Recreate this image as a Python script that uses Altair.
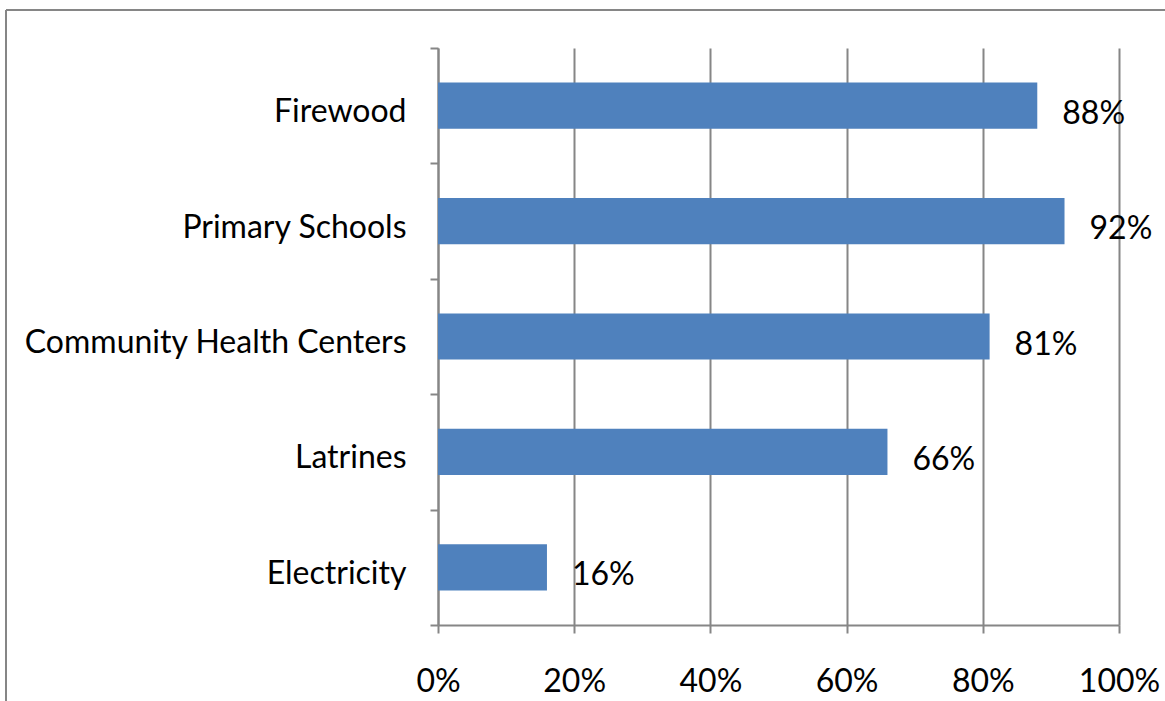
import altair as alt
import pandas as pd

categories = ["Firewood", "Primary Schools", "Community Health Centers", "Latrines", "Electricity"]
values = [0.88, 0.92, 0.81, 0.66, 0.16]
labels = ["88%", "92%", "81%", "66%", "16%"]
x_ticks = [0, 0.2, 0.4, 0.6, 0.8, 1.0]

df = pd.DataFrame({"category": categories, "value": values, "label": labels})

FONT = "Lato"
FS = 32
GRID = "#868686"
BAR = "#4F81BD"

W, H = 681, 577
PL, PT = 438, 48

y_enc = alt.Y(
    "category:N", sort=categories, title=None,
    scale=alt.Scale(paddingInner=0, paddingOuter=0),
    axis=alt.Axis(tickBand="extent", ticks=True, tickSize=8, tickColor=GRID, tickWidth=2,
                  domainColor=GRID, domainWidth=2, labelFont=FONT, labelFontSize=FS,
                  labelColor="black", labelPadding=24, labelLimit=0, labelOffset=6,
                  grid=False),
)
x_enc = alt.X(
    "value:Q", title=None, scale=alt.Scale(domain=[0, 1], nice=False),
    axis=alt.Axis(values=x_ticks, format=".0%", grid=True, gridColor=GRID, gridWidth=2,
                  tickSize=8, tickColor=GRID, tickWidth=2, domainColor=GRID, domainWidth=2,
                  labelFont=FONT, labelFontSize=FS, labelColor="black", labelPadding=33,
                  labelFlush=False, labelOverlap=False),
)

bars = alt.Chart(df).mark_bar(color=BAR, height={"band": 0.4}).encode(x=x_enc, y=y_enc)
text = alt.Chart(df).mark_text(align="left", baseline="middle", dx=25, dy=8, font=FONT,
                               fontSize=FS, color="black").encode(
    x="value:Q", y=alt.Y("category:N", sort=categories), text="label:N")

one = pd.DataFrame({"a": [0]})
left_border = alt.Chart(one).mark_rule(color=GRID, strokeWidth=2).encode(
    x=alt.value(6 - PL), y=alt.value(10 - PT), y2=alt.value(800))
top_border = alt.Chart(one).mark_rule(color=GRID, strokeWidth=2).encode(
    x=alt.value(6 - PL), x2=alt.value(1300), y=alt.value(10 - PT))

chart = alt.layer(bars, text, left_border, top_border).properties(
    width=W, height=H,
    autosize=alt.AutoSizeParams(type="none"),
    padding={"left": PL, "top": PT, "right": 1165 - PL - W, "bottom": 701 - PT - H},
    background="white",
).configure_view(stroke=None)

chart.save("out.html", embed_options={"renderer": "svg", "actions": False})
